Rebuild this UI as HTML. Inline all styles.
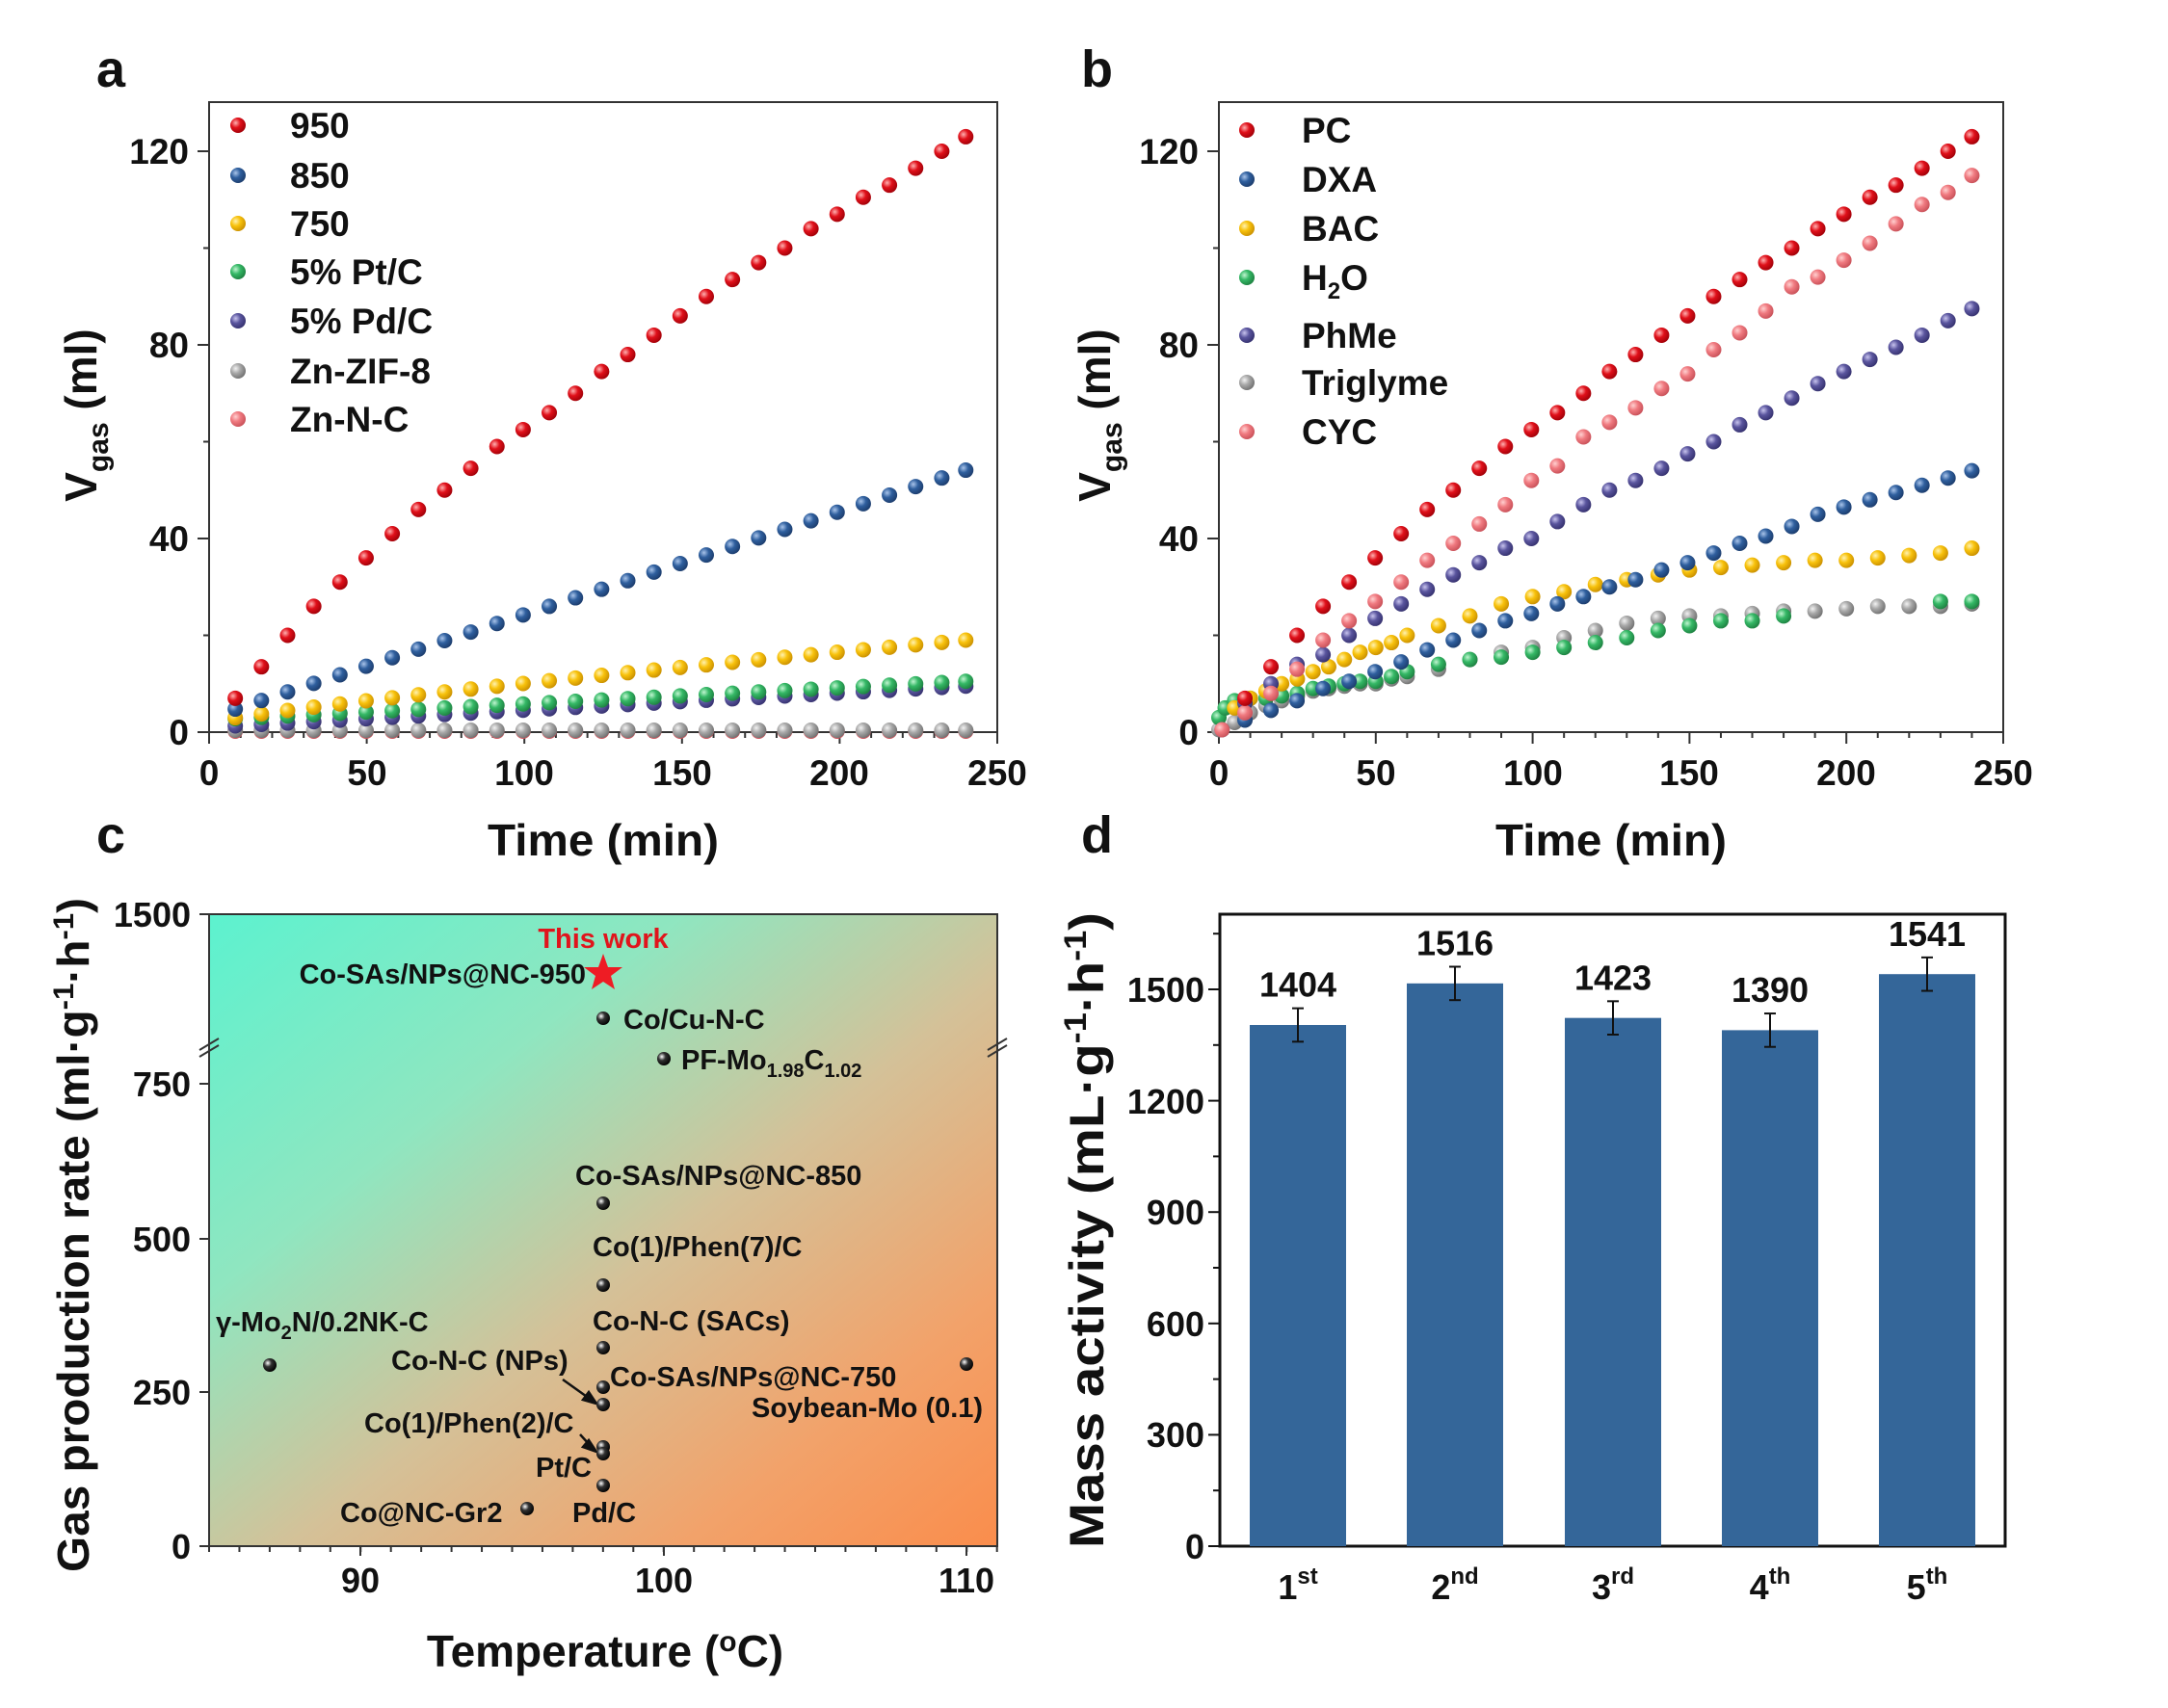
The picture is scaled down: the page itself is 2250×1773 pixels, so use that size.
<!DOCTYPE html>
<html><head><meta charset="utf-8"><style>
html,body{margin:0;padding:0;background:#fff}
svg{display:block}
text{font-family:"Liberation Sans",Arial,sans-serif;font-weight:bold;fill:#111}
</style></head><body>
<svg id="s" width="2250" height="1773" viewBox="0 0 2250 1773" xmlns="http://www.w3.org/2000/svg">
<defs>
<linearGradient id="bg" x1="0" y1="0" x2="1" y2="1">
<stop offset="0" stop-color="#5cf2cf"/><stop offset="0.3" stop-color="#8fe6c0"/><stop offset="0.55" stop-color="#d4c198"/><stop offset="0.8" stop-color="#f2a26a"/><stop offset="1" stop-color="#fa8d4c"/>
</linearGradient>
<radialGradient id="gr" cx="0.35" cy="0.35" r="0.7"><stop offset="0" stop-color="#ffb0b0"/><stop offset="0.45" stop-color="#e0101a"/><stop offset="1" stop-color="#a00008"/></radialGradient>
<radialGradient id="gb" cx="0.35" cy="0.35" r="0.7"><stop offset="0" stop-color="#a9c4ea"/><stop offset="0.45" stop-color="#2f5f9e"/><stop offset="1" stop-color="#1c3c6c"/></radialGradient>
<radialGradient id="gy" cx="0.35" cy="0.35" r="0.7"><stop offset="0" stop-color="#fff2b0"/><stop offset="0.45" stop-color="#f8c20c"/><stop offset="1" stop-color="#c98f00"/></radialGradient>
<radialGradient id="gg" cx="0.35" cy="0.35" r="0.7"><stop offset="0" stop-color="#c0f5d0"/><stop offset="0.45" stop-color="#35b866"/><stop offset="1" stop-color="#1d8040"/></radialGradient>
<radialGradient id="gp" cx="0.35" cy="0.35" r="0.7"><stop offset="0" stop-color="#c8c4ee"/><stop offset="0.45" stop-color="#5a559e"/><stop offset="1" stop-color="#35316e"/></radialGradient>
<radialGradient id="gs" cx="0.35" cy="0.35" r="0.7"><stop offset="0" stop-color="#f2f2f2"/><stop offset="0.45" stop-color="#a8a8a8"/><stop offset="1" stop-color="#707070"/></radialGradient>
<radialGradient id="gk" cx="0.35" cy="0.35" r="0.7"><stop offset="0" stop-color="#ffd0d0"/><stop offset="0.45" stop-color="#f07a80"/><stop offset="1" stop-color="#c85058"/></radialGradient>
<radialGradient id="gbk" cx="0.35" cy="0.35" r="0.7"><stop offset="0" stop-color="#ffffff"/><stop offset="0.4" stop-color="#333"/><stop offset="1" stop-color="#000"/></radialGradient>
</defs>

<!-- Panel letters -->
<text x="100" y="90" font-size="54">a</text>
<text x="1122" y="90" font-size="54">b</text>
<text x="100" y="885" font-size="54">c</text>
<text x="1122" y="885" font-size="54">d</text>

<!-- Panel a -->
<rect x="217" y="106" width="818" height="654" fill="none" stroke="#333" stroke-width="2"/>
<g font-size="37" text-anchor="end">
<text x="196" y="773">0</text><text x="196" y="572">40</text><text x="196" y="371">80</text><text x="196" y="170">120</text>
</g>
<g font-size="37" text-anchor="middle">
<text x="217" y="815">0</text><text x="381" y="815">50</text><text x="544" y="815">100</text><text x="708" y="815">150</text><text x="871" y="815">200</text><text x="1035" y="815">250</text>
</g>
<text x="626" y="888" font-size="46" text-anchor="middle" textLength="240" lengthAdjust="spacingAndGlyphs">Time (min)</text>
<text transform="translate(100,431) rotate(-90)" font-size="46" text-anchor="middle">V<tspan font-size="30" dy="12">gas</tspan><tspan dy="-12"> (ml)</tspan></text>
<g font-size="37">
<text x="301" y="143">950</text><text x="301" y="195">850</text><text x="301" y="245">750</text><text x="301" y="295">5% Pt/C</text><text x="301" y="346">5% Pd/C</text><text x="301" y="398">Zn-ZIF-8</text><text x="301" y="448">Zn-N-C</text>
</g>

<!-- Panel b -->
<rect x="1265" y="106" width="814" height="654" fill="none" stroke="#333" stroke-width="2"/>
<g font-size="37" text-anchor="end">
<text x="1244" y="773">0</text><text x="1244" y="572">40</text><text x="1244" y="371">80</text><text x="1244" y="170">120</text>
</g>
<g font-size="37" text-anchor="middle">
<text x="1265" y="815">0</text><text x="1428" y="815">50</text><text x="1591" y="815">100</text><text x="1753" y="815">150</text><text x="1916" y="815">200</text><text x="2079" y="815">250</text>
</g>
<text x="1672" y="888" font-size="46" text-anchor="middle" textLength="240" lengthAdjust="spacingAndGlyphs">Time (min)</text>
<text transform="translate(1152,431) rotate(-90)" font-size="46" text-anchor="middle">V<tspan font-size="30" dy="12">gas</tspan><tspan dy="-12"> (ml)</tspan></text>
<g font-size="37">
<text x="1351" y="148">PC</text><text x="1351" y="199">DXA</text><text x="1351" y="250">BAC</text><text x="1351" y="301">H<tspan font-size="24" dy="9">2</tspan><tspan dy="-9">O</tspan></text><text x="1351" y="361">PhMe</text><text x="1351" y="410">Triglyme</text><text x="1351" y="461">CYC</text>
</g>

<!-- Panel c -->
<rect x="217" y="949" width="818" height="656" fill="url(#bg)" stroke="#333" stroke-width="2"/>
<g stroke="#333" stroke-width="2">
<line x1="207" y1="949" x2="217" y2="949"/><line x1="207" y1="1125" x2="217" y2="1125"/><line x1="207" y1="1286" x2="217" y2="1286"/><line x1="207" y1="1445" x2="217" y2="1445"/><line x1="207" y1="1605" x2="217" y2="1605"/>
<line x1="374" y1="1605" x2="374" y2="1615"/><line x1="689" y1="1605" x2="689" y2="1615"/><line x1="1003" y1="1605" x2="1003" y2="1615"/>
<line x1="207" y1="1090" x2="227" y2="1078"/><line x1="207" y1="1097" x2="227" y2="1085"/>
<line x1="1025" y1="1090" x2="1045" y2="1078"/><line x1="1025" y1="1097" x2="1045" y2="1085"/>
</g>
<g font-size="36" text-anchor="end">
<text x="198" y="962">1500</text><text x="198" y="1138">750</text><text x="198" y="1299">500</text><text x="198" y="1458">250</text><text x="198" y="1618">0</text>
</g>
<g font-size="36" text-anchor="middle">
<text x="374" y="1653">90</text><text x="689" y="1653">100</text><text x="1003" y="1653">110</text>
</g>
<text x="628" y="1730" font-size="46" text-anchor="middle">Temperature (<tspan font-size="30" dy="-16">o</tspan><tspan dy="16">C)</tspan></text>
<text transform="translate(92,1282) rotate(-90)" font-size="46" text-anchor="middle" textLength="700" lengthAdjust="spacingAndGlyphs">Gas production rate (ml·g<tspan font-size="30" dy="-16">-1</tspan><tspan dy="16">·h</tspan><tspan font-size="30" dy="-16">-1</tspan><tspan dy="16">)</tspan></text>
<text x="626" y="984" font-size="29" text-anchor="middle" style="fill:#e0141c">This work</text>
<g font-size="29">
<text x="608" y="1021" text-anchor="end">Co-SAs/NPs@NC-950</text>
<text x="647" y="1068">Co/Cu-N-C</text>
<text x="707" y="1110">PF-Mo<tspan font-size="20" dy="8">1.98</tspan><tspan dy="-8">C</tspan><tspan font-size="20" dy="8">1.02</tspan></text>
<text x="597" y="1230">Co-SAs/NPs@NC-850</text>
<text x="615" y="1304">Co(1)/Phen(7)/C</text>
<text x="615" y="1381">Co-N-C (SACs)</text>
<text x="224" y="1382">γ-Mo<tspan font-size="20" dy="8">2</tspan><tspan dy="-8">N/0.2NK-C</tspan></text>
<text x="406" y="1422">Co-N-C (NPs)</text>
<text x="633" y="1439">Co-SAs/NPs@NC-750</text>
<text x="780" y="1471">Soybean-Mo (0.1)</text>
<text x="378" y="1487">Co(1)/Phen(2)/C</text>
<text x="556" y="1533">Pt/C</text>
<text x="353" y="1580">Co@NC-Gr2</text>
<text x="594" y="1580">Pd/C</text>
</g>
<g stroke="#111" stroke-width="2.5" fill="#111">
<line x1="584" y1="1432" x2="612" y2="1452"/><polygon points="619,1457 605,1453 611,1445"/>
<line x1="602" y1="1489" x2="612" y2="1500"/><polygon points="619,1507 605,1502 611,1495"/>
</g>
<polygon points="626,990 631,1004 646,1004 634,1013 638,1027 626,1019 614,1027 618,1013 606,1004 621,1004" fill="#ee1c24"/>

<!-- Panel d -->
<rect x="1266" y="949" width="815" height="656" fill="none" stroke="#111" stroke-width="3"/>
<g font-size="36" text-anchor="end">
<text x="1250" y="1618">0</text><text x="1250" y="1502">300</text><text x="1250" y="1387">600</text><text x="1250" y="1271">900</text><text x="1250" y="1156">1200</text><text x="1250" y="1040">1500</text>
</g>
<g font-size="36" text-anchor="middle">
<text x="1347" y="1660">1<tspan font-size="24" dy="-16">st</tspan></text>
<text x="1510" y="1660">2<tspan font-size="24" dy="-16">nd</tspan></text>
<text x="1674" y="1660">3<tspan font-size="24" dy="-16">rd</tspan></text>
<text x="1837" y="1660">4<tspan font-size="24" dy="-16">th</tspan></text>
<text x="2000" y="1660">5<tspan font-size="24" dy="-16">th</tspan></text>
</g>
<text transform="translate(1145,1277) rotate(-90)" font-size="50" text-anchor="middle" textLength="660" lengthAdjust="spacingAndGlyphs">Mass activity (mL·g<tspan font-size="32" dy="-18">-1</tspan><tspan dy="18">·h</tspan><tspan font-size="32" dy="-18">-1</tspan><tspan dy="18">)</tspan></text>
<g id="dyn"></g>
</svg>
<script>
var NS="http://www.w3.org/2000/svg",G=document.getElementById("dyn");
function el(t,a){var e=document.createElementNS(NS,t);for(var k in a)e.setAttribute(k,a[k]);G.appendChild(e);return e;}
function ball(x,y,f,r){el("circle",{cx:x,cy:y,r:r||8,fill:"url(#"+f+")"});}
function ticks(x0,w){
 for(var i=0;i<=25;i++){var x=x0+i*w/25;el("line",{x1:x,y1:760,x2:x,y2:i%5==0?772:766,stroke:"#333","stroke-width":2});}
 for(var v=0;v<=120;v+=20){var y=760-v*201/40;el("line",{x1:x0,y1:y,x2:x0-(v%40==0?12:6),y2:y,stroke:"#333","stroke-width":2});}
}
ticks(217,818);ticks(1265,814);
var xa=function(t){return 217+t*818/250},xb=function(t){return 1265+t*814/250},ya=function(v){return 760-v*201/40};
var T=[];for(var i=1;i<=29;i++)T.push(8.3*i>240?240:8.3*i);
var PC=[7,13.5,20,26,31,36,41,46,50,54.5,59,62.5,66,70,74.5,78,82,86,90,93.5,97,100,104,107,110.5,113,116.5,120,123];
T.forEach(function(t,i){var f=t/240;
 ball(xa(t),ya(0.2),"gk");ball(xa(t),ya(0.4),"gs");
 ball(xa(t),ya(1+8.5*f),"gp");ball(xa(t),ya(2.5+8*f),"gg");
 ball(xa(t),ya(2+17*Math.pow(f,0.85)),"gy");ball(xa(t),ya(3+0.213*t),"gb");ball(xa(t),ya(PC[i]),"gr");});
var LA=[130,182,232,282,333,385,435],LC=["gr","gb","gy","gg","gp","gs","gk"];
LA.forEach(function(y,i){ball(247,y,LC[i]);});
var tr=[[0,.5],[5,2],[10,4],[15,5.5],[20,6.5],[25,7.5],[30,8.5],[35,9],[40,9.5],[45,10],[50,10],[55,11],[60,11.5],[70,13],[80,15],[90,16.5],[100,17.5],[110,19.5],[120,21],[130,22.5],[140,23.5],[150,24],[160,24],[170,24.5],[180,25],[190,25],[200,25.5],[210,26],[220,26],[230,26],[240,26.5]];
tr.forEach(function(p){ball(xb(p[0]),ya(p[1]),"gs");});
var h2o=[[0,3],[2,5],[5,6.5],[10,7],[15,7],[20,7.5],[25,8],[30,9],[35,9.5],[40,10],[45,10.5],[50,10.5],[55,11.5],[60,12.5],[70,14],[80,15],[90,15.5],[100,16.5],[110,17.5],[120,18.5],[130,19.5],[140,21],[150,22],[160,23],[170,23],[180,24],[230,27],[240,27]];
h2o.forEach(function(p){ball(xb(p[0]),ya(p[1]),"gg");});
var bac=[[5,5],[10,7],[15,8.5],[20,10],[25,11],[30,12.5],[35,13.5],[40,15],[45,16.5],[50,17.5],[55,18.5],[60,20],[70,22],[80,24],[90,26.5],[100,28],[110,29],[120,30.5],[130,31.5],[140,32.5],[150,33.5],[160,34],[170,34.5],[180,35],[190,35.5],[200,35.5],[210,36],[220,36.5],[230,37],[240,38]];
bac.forEach(function(p){ball(xb(p[0]),ya(p[1]),"gy");});
var dxa=[2.5,4.5,6.5,9,10.5,12.5,14.5,17,19,21,23,24.5,26.5,28,30,31.5,33.5,35,37,39,40.5,42.5,45,46.5,48,49.5,51,52.5,54];
var phme=[6,10,14,16,20,23.5,26.5,29.5,32.5,35,38,40,43.5,47,50,52,54.5,57.5,60,63.5,66,69,72,74.5,77,79.5,82,85,87.5];
var cyc=[4,8,13,19,23,27,31,35.5,39,43,47,52,55,61,64,67,71,74,79,82.5,87,92,94,97.5,101,105,109,111.5,115];
ball(xb(1),ya(0.5),"gb");ball(xb(1),ya(0.5),"gk");
T.forEach(function(t,i){ball(xb(t),ya(dxa[i]),"gb");ball(xb(t),ya(phme[i]),"gp");ball(xb(t),ya(cyc[i]),"gk");ball(xb(t),ya(PC[i]),"gr");});
var LB=[135,186,237,288,348,397,448],LBC=["gr","gb","gy","gg","gp","gs","gk"];
LB.forEach(function(y,i){ball(1294,y,LBC[i]);});
[[626,1057],[689,1099],[626,1249],[626,1334],[626,1399],[626,1440],[626,1458],[626,1502],[626,1509],[626,1542],[547,1566],[280,1417],[1003,1416]].forEach(function(p){ball(p[0],p[1],"gbk",7);});
for(var x=374-157;x<=1035;x+=31.45){el("line",{x1:x,y1:1605,x2:x,y2:1611,stroke:"#333","stroke-width":2});}
var yd=function(v){return 1605-v*115.6/300};
for(var v=150;v<=1650;v+=300){el("line",{x1:1266,y1:yd(v),x2:1259,y2:yd(v),stroke:"#111","stroke-width":2});}
for(var v=0;v<=1500;v+=300){el("line",{x1:1266,y1:yd(v),x2:1254,y2:yd(v),stroke:"#111","stroke-width":2});}
var X=[1347,1510,1674,1837,2000],V=[1404,1516,1423,1390,1541],E=[45,45,45,45,45];
X.forEach(function(x,i){el("rect",{x:x-50,y:yd(V[i]),width:100,height:1605-yd(V[i]),fill:"#346699"});
 var a=yd(V[i]+E[i]),b=yd(V[i]-E[i]);
 el("line",{x1:x,y1:a,x2:x,y2:b,stroke:"#111","stroke-width":2});
 el("line",{x1:x-6,y1:a,x2:x+6,y2:a,stroke:"#111","stroke-width":2});el("line",{x1:x-6,y1:b,x2:x+6,y2:b,stroke:"#111","stroke-width":2});
 var tx=document.createElementNS(NS,"text");tx.setAttribute("x",x);tx.setAttribute("y",a-12);tx.setAttribute("font-size","36");tx.setAttribute("text-anchor","middle");tx.textContent=V[i];G.appendChild(tx);});
</script>
</body></html>
